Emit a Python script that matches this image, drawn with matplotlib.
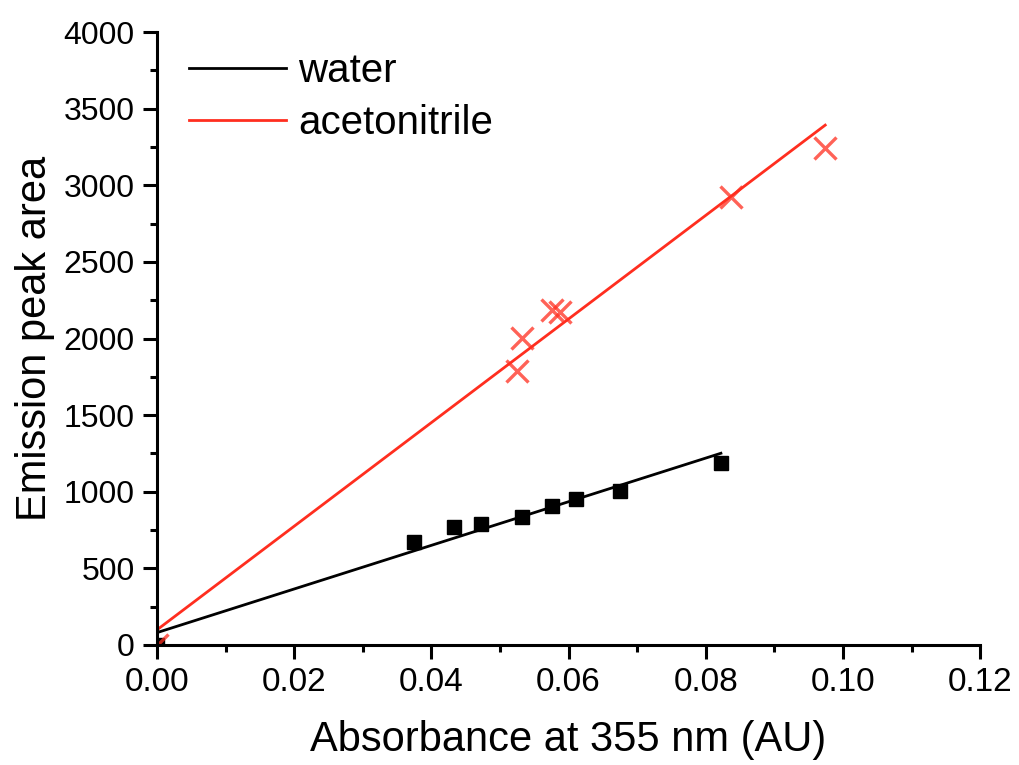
import numpy as np
import matplotlib
matplotlib.use("Agg")
import matplotlib.pyplot as plt
from matplotlib.ticker import MultipleLocator

plt.rcParams['font.family'] = ['Liberation Sans', 'DejaVu Sans']

# water (squares)
water_abs = [0.0, 0.0375, 0.0433, 0.0472, 0.0532, 0.0576, 0.0611, 0.0675, 0.0822]
water_area = [0, 670, 772, 790, 837, 909, 951, 1005, 1188]
# acetonitrile (crosses)
acn_abs = [0.0, 0.0525, 0.0532, 0.0576, 0.0588, 0.0836, 0.0974]
acn_area = [0, 1785, 2001, 2186, 2175, 2921, 3241]

# linear fits (end points)
water_fit_x = [0.0, 0.0822]
water_fit_y = [80, 1251]
acn_fit_x = [0.0, 0.0974]
acn_fit_y = [98, 3393]

red = '#ff2e1f'

fig = plt.figure(figsize=(10.19, 7.65), dpi=100)
ax = fig.add_axes([0.154, 0.157, 0.808, 0.801])

ax.plot(water_fit_x, water_fit_y, color='black', lw=2, label='water')
ax.plot(acn_fit_x, acn_fit_y, color=red, lw=2, label='acetonitrile')
ax.plot(water_abs, water_area, 's', color='black', ms=10, ls='none')
ax.plot(acn_abs, acn_area, 'x', color=red, alpha=0.75, ms=16, mew=2.4, ls='none')

ax.set_xlim(0, 0.12)
ax.set_ylim(0, 4000)
ax.xaxis.set_major_locator(MultipleLocator(0.02))
ax.xaxis.set_minor_locator(MultipleLocator(0.01))
ax.yaxis.set_major_locator(MultipleLocator(500))
ax.yaxis.set_minor_locator(MultipleLocator(250))
ax.xaxis.set_major_formatter(plt.FuncFormatter(lambda v, p: '%.2f' % v))

for s in ['top', 'right']:
    ax.spines[s].set_visible(False)
for s in ['left', 'bottom']:
    ax.spines[s].set_linewidth(2.2)

ax.tick_params(which='major', direction='out', length=10, width=2.2, labelsize=23, pad=6)
ax.tick_params(axis='x', which='major', labelsize=24)
ax.tick_params(which='minor', direction='out', length=5, width=2.2)

ax.set_xlabel('Absorbance at 355 nm (AU)', fontsize=30, labelpad=16)
ax.set_ylabel('Emission peak area', fontsize=30, labelpad=6)

ax.legend(loc='upper left', frameon=False, fontsize=29, handlelength=2.4,
          handletextpad=0.3, labelspacing=0.35, borderaxespad=0.3,
          bbox_to_anchor=(0.005, 1.013))

fig.savefig('out.png', dpi=100)
